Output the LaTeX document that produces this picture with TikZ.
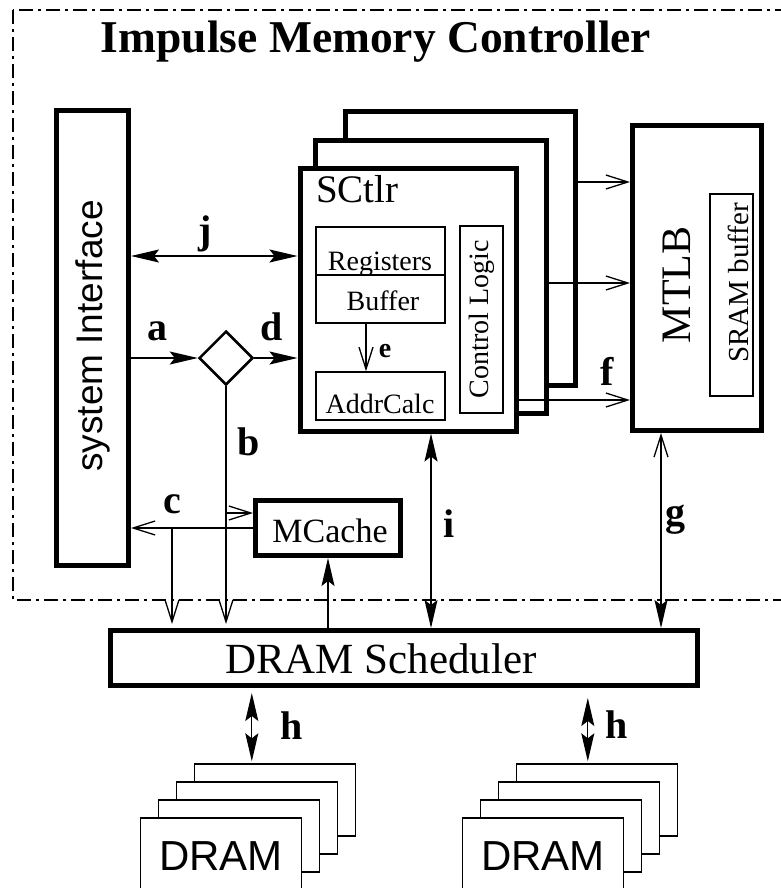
\documentclass[tikz,border=0pt]{standalone}
\usepackage{fontspec}
\setmainfont{Liberation Serif}
\setsansfont{Liberation Sans}
\usepackage{tikz}
\usetikzlibrary{arrows.meta,calc,positioning,shapes.geometric}
\newcommand{\fsz}[1]{\fontsize{#1}{#1}\selectfont}

\begin{document}
\begin{tikzpicture}[x=1pt,y=-1pt,
  heavy/.style={draw,line width=5pt,fill=white,inner sep=0pt},
  light/.style={draw,line width=1.4pt,fill=white,inner sep=0pt},
  txt/.style={inner sep=0pt,anchor=base},
  wire/.style={line width=1.3pt},
  tip/.style={-{Stealth[length=28pt,width=13pt,inset=5pt]}},
  bitip/.style={{Stealth[length=28pt,width=13pt,inset=5pt]}-{Stealth[length=28pt,width=13pt,inset=5pt]}},
  vee/.style={-{Straight Barb[length=22pt,width=14pt]}},
  tag/.style={font=\fsz{40}\bfseries,inner sep=0pt,anchor=base}]
  \useasboundingbox (0,0) rectangle (780,888);
  % controller outline and title
  \draw[line width=2.8pt,dash pattern=on 14pt off 5pt on 3pt off 5pt] (13,10) rectangle (810,600);
  \node[txt,font=\fsz{45.5}\bfseries] (title) at (376,53) {Impulse Memory Controller};

  % system interface
  \node[heavy,minimum width=72pt,minimum height=455pt] (si) at (92.5,338) {};
  \node[rotate=90,font=\sffamily\fsz{37}] (si-text) at (93,336) {system Interface};

  % stream controllers, back to front
  \node[heavy,minimum width=230pt,minimum height=273pt] (sc3) at (460,248.5) {};
  \node[heavy,minimum width=231pt,minimum height=273pt] (sc2) at (430.5,276.5) {};
  \node[heavy,minimum width=216pt,minimum height=263pt] (sc1) at (408,299.5) {};
  \node[txt,anchor=base west,font=\fsz{39}] (sctlr) at (316,202) {SCtlr};
  \node[light,minimum width=129pt,minimum height=96pt] (regs) at (380.5,275) {};
  \draw[line width=1.4pt] (regs.west) -- (regs.east);
  \node[txt,font=\fsz{28}] (regs-text) at (380,270) {Registers};
  \node[txt,font=\fsz{28}] (buf-text) at (383,310) {Buffer};
  \node[light,minimum width=129pt,minimum height=48pt] (addr) at (380.5,396) {};
  \node[txt,font=\fsz{28}] (addr-text) at (380,413) {AddrCalc};
  \node[light,minimum width=43pt,minimum height=187pt] (ctl) at (481.5,319.5) {};
  \node[rotate=90,font=\fsz{28}] (ctl-text) at (ctl) {Control Logic};

  % MTLB
  \node[heavy,minimum width=129pt,minimum height=305pt] (mtlb) at (697,278) {};
  \node[rotate=90,font=\fsz{42}] (mtlb-text) at (677,285) {MTLB};
  \node[light,minimum width=43pt,minimum height=202pt] (sram) at (731.5,295) {};
  \node[rotate=90,font=\fsz{29}] (sram-text) at (738,283) {SRAM buffer};

  % split point and memory cache
  \node[diamond,draw,line width=2.5pt,fill=white,minimum width=54pt,minimum height=54pt,inner sep=0pt] (split) at (226,358) {};
  \node[heavy,minimum width=145pt,minimum height=55pt] (mcache) at (328,528) {};
  \node[txt,font=\fsz{34}] (mcache-text) at (330,542) {MCache};

  % scheduler
  \node[heavy,minimum width=587pt,minimum height=55pt] (sched) at (404,658) {};
  \node[txt,font=\fsz{43}] (sched-text) at (381,673) {DRAM Scheduler};

  % DRAM banks
  \foreach \s/\x in {L/221,R/543} {
    \foreach \k in {3,2,1,0}
      \node[light,minimum width=161pt,minimum height=72pt] (dram\s\k) at (\x+18*\k,854-18*\k) {};
    \node[txt,font=\sffamily\fsz{42}] (dram\s-text) at (\x,870) {DRAM};
  }

  % rows and columns for the connectors
  \coordinate (jrow) at (0,256);
  \coordinate (mrow) at (0,513);
  \coordinate (row1) at (0,182);
  \coordinate (row2) at (0,283);
  \coordinate (row3) at (0,400);
  \coordinate (ecol) at (366,0);
  \coordinate (icol) at (431,0);
  \coordinate (gcol) at (661,0);
  \coordinate (ctap) at (172,528);
  \coordinate (hL) at ([xshift=58pt]dramL3.north west);
  \coordinate (hR) at ([xshift=72pt]dramR3.north west);

  % connectors
  \draw[wire,bitip] (si.east |- jrow) -- (sc1.west |- jrow);
  \draw[wire,tip] (si.east |- split) -- (split.west);
  \draw[wire,tip] (split.east) -- (sc1.west |- split);
  \draw[wire,vee,shorten >=4pt] (split.south) -- (split.south |- sched.north);
  \draw[wire,vee] (split.south |- mrow) -- (mcache.west |- mrow);
  \draw[wire,vee] (mcache.west) -- (si.east |- mcache.west);
  \draw[wire,vee,shorten >=4pt] (ctap) -- (ctap |- sched.north);
  \draw[wire,tip] (mcache.south |- sched.north) -- (mcache.south);
  \draw[wire,vee] (regs.south -| ecol) -- (addr.north -| ecol);
  \draw[wire,vee] (sc3.east |- row1) -- (mtlb.west |- row1);
  \draw[wire,vee] (sc2.east |- row2) -- (mtlb.west |- row2);
  \draw[wire,vee] (sc1.east |- row3) -- (mtlb.west |- row3);
  \draw[wire,bitip] (icol |- sc1.south) -- (icol |- sched.north);
  \draw[wire,{Straight Barb[length=22pt,width=14pt]}-{Stealth[length=28pt,width=13pt,inset=5pt]}] (gcol |- mtlb.south) -- (gcol |- sched.north);
  \draw[wire,bitip,shorten <=5pt,shorten >=2pt] (hL |- sched.south) -- (hL);
  \draw[wire,bitip,shorten <=10pt,shorten >=2pt] (hR |- sched.south) -- (hR);

  % labels
  \node[tag] (lab-j) at (205,243) {j};
  \node[tag] (lab-a) at (157,340) {a};
  \node[tag] (lab-d) at (272,340) {d};
  \node[tag] (lab-b) at (249,455) {b};
  \node[tag] (lab-c) at (172,513) {c};
  \node[tag,font=\fsz{28}\bfseries] (lab-e) at (385,357) {e};
  \node[tag] (lab-f) at (607,385) {f};
  \node[tag] (lab-i) at (449,537) {i};
  \node[tag] (lab-g) at (675,525) {g};
  \node[tag] (lab-h1) at (292,739) {h};
  \node[tag] (lab-h2) at (617,738) {h};
\end{tikzpicture}
\end{document}
